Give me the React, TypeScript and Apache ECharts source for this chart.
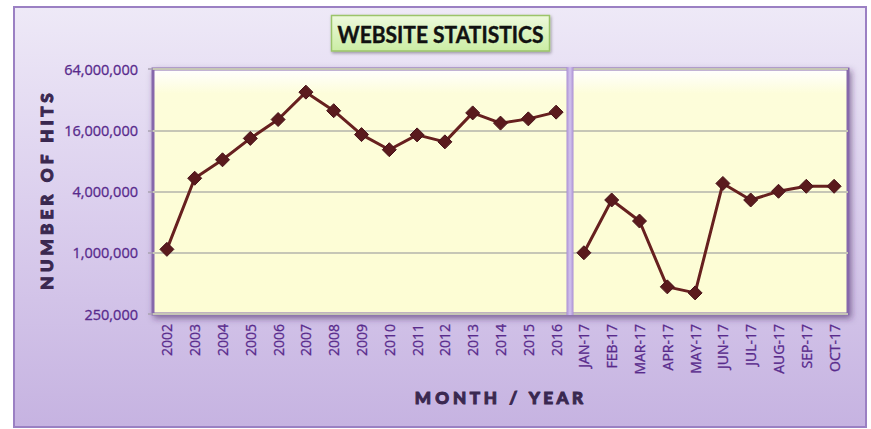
import React, { useEffect, useRef } from 'react';
import * as echarts from 'echarts';

const years = ['2002', '2003', '2004', '2005', '2006', '2007', '2008', '2009', '2010', '2011', '2012', '2013', '2014', '2015', '2016'];
const yearHits = [1080000, 5400000, 8200000, 13300000, 20400000, 37900000, 24900000, 14500000, 10300000, 14400000, 12300000, 23700000, 18800000, 20700000, 24100000];
const months = ['JAN-17', 'FEB-17', 'MAR-17', 'APR-17', 'MAY-17', 'JUN-17', 'JUL-17', 'AUG-17', 'SEP-17', 'OCT-17'];
const monthHits = [1000000, 3300000, 2050000, 462000, 403000, 4800000, 3300000, 4020000, 4500000, 4500000];
const yTickValues = [250000, 1000000, 4000000, 16000000, 64000000];
const LOG_BASE = 4;

const titleText = 'WEBSITE STATISTICS';
const yName = 'NUMBER OF HITS';
const xName = 'MONTH / YEAR';

const toLog = (v: number) => Math.log(v / yTickValues[0]) / Math.log(LOG_BASE);

function spaced(s: string) {
  return s.split(' ').map((w) => w.split('').join(' ')).join('   ');
}

function measure(text: string, font: string) {
  const c = document.createElement('canvas').getContext('2d')!;
  c.font = font;
  return c.measureText(text).width;
}

export default function App() {
  const ref = useRef<HTMLDivElement>(null);
  useEffect(() => {
    document.body.style.margin = '0';
    const chart = echarts.init(ref.current!, null, { renderer: 'svg' });
    const categories = [...years, ...months];
    const s1 = categories.map((_, i) => (i < years.length ? toLog(yearHits[i]) : null));
    const s2 = categories.map((_, i) => (i >= years.length ? toLog(monthHits[i - years.length]) : null));
    const labelFont = "'Open Sans', sans-serif";
    const labelColor = '#582a8c';
    const lineStyle = { color: '#67201f', width: 3 };
    const itemStyle = { color: '#5a1a1d', borderColor: '#47121a', borderWidth: 1 };

    chart.setOption({
      animation: false,
      backgroundColor: 'transparent',
      grid: {
        left: 153,
        right: 23,
        top: 69,
        bottom: 115,
        show: true,
        borderColor: '#8668ab',
        borderWidth: 3,
        shadowColor: 'rgba(60,30,90,0.55)',
        shadowBlur: 6,
        shadowOffsetX: 2,
        shadowOffsetY: 3,
        backgroundColor: new echarts.graphic.LinearGradient(0, 0, 0, 1, [
          { offset: 0, color: '#ffffff' },
          { offset: 0.1, color: '#fdfdda' },
          { offset: 1, color: '#fdfdd4' },
        ]),
      },
      xAxis: {
        type: 'category',
        data: categories,
        boundaryGap: true,
        axisLine: { show: false },
        axisTick: { show: false },
        axisLabel: {
          rotate: 90,
          interval: 0,
          margin: 10,
          color: labelColor,
          fontFamily: labelFont,
          fontSize: 14,
          textBorderColor: labelColor,
          textBorderWidth: 0.3,
        },
      },
      yAxis: {
        type: 'value',
        min: 0,
        max: yTickValues.length - 1,
        interval: 1,
        axisLine: { show: false },
        axisTick: { show: true, length: 5, lineStyle: { color: '#a9a2b0', width: 1.5 } },
        splitLine: { show: true, lineStyle: { color: '#c6c6b6', width: 2 } },
        axisLabel: {
          margin: 15,
          color: labelColor,
          fontFamily: labelFont,
          fontSize: 14.5,
          textBorderColor: labelColor,
          textBorderWidth: 0.3,
          formatter: (v: number) => {
            const t = yTickValues[Math.round(v)];
            return t === undefined ? '' : t.toLocaleString('en-US');
          },
        },
      },
      series: [
        { type: 'line', data: s1, symbol: 'diamond', symbolSize: 14, lineStyle, itemStyle, connectNulls: false },
        { type: 'line', data: s2, symbol: 'diamond', symbolSize: 14, lineStyle, itemStyle, connectNulls: false },
      ],
    });

    const xa = chart.convertToPixel({ xAxisIndex: 0 }, categories[years.length - 1]) as number;
    const xb = chart.convertToPixel({ xAxisIndex: 0 }, categories[years.length]) as number;
    const yTop = chart.convertToPixel({ yAxisIndex: 0 }, yTickValues.length - 1) as number;
    const yBot = chart.convertToPixel({ yAxisIndex: 0 }, 0) as number;
    const sepX = (xa + xb) / 2;

    const titleFont = "bold 23px Lato";
    const titleW = measure(titleText, titleFont);
    const nameFontSize = 17;
    const nameFont = `900 ${nameFontSize}px Lato`;
    const yNameS = spaced(yName);
    const xNameS = spaced(xName);
    const yNameW = measure(yNameS, nameFont);
    const xNameW = measure(xNameS, nameFont);
    const titleCx = 440.5;
    const nameColor = '#3a2850';

    chart.setOption({
      graphic: [
        {
          type: 'rect',
          z: 10,
          shape: { x: sepX - 3.5, y: yTop - 2, width: 7, height: yBot - yTop + 3 },
          style: {
            fill: new echarts.graphic.LinearGradient(0, 0, 1, 0, [
              { offset: 0, color: '#ab90d3' },
              { offset: 0.5, color: '#d3c4ee' },
              { offset: 1, color: '#ab90d3' },
            ]),
          },
        },
        {
          type: 'rect',
          z: 10,
          shape: { x: 331.5, y: 15.5, width: 218, height: 35.5 },
          style: {
            fill: new echarts.graphic.LinearGradient(0, 0, 0, 1, [
              { offset: 0, color: '#edf9dc' },
              { offset: 1, color: '#cbeda4' },
            ]),
            stroke: '#9bc46a',
            lineWidth: 1.5,
            shadowBlur: 3,
            shadowOffsetX: 1,
            shadowOffsetY: 1.5,
            shadowColor: 'rgba(0,0,0,0.35)',
          },
        },
        {
          type: 'text',
          z: 11,
          x: titleCx,
          y: 34,
          scaleX: 206 / titleW,
          style: {
            text: titleText,
            font: titleFont,
            fill: '#111111',
            stroke: '#111111',
            lineWidth: 0.4,
            align: 'center',
            verticalAlign: 'middle',
            textAlign: 'center',
            textVerticalAlign: 'middle',
          },
        },
        {
          type: 'text',
          z: 11,
          x: 47,
          y: (yTop + yBot) / 2,
          rotation: Math.PI / 2,
          scaleX: 198 / yNameW,
          style: {
            text: yNameS,
            font: nameFont,
            fill: nameColor,
            stroke: nameColor,
            lineWidth: 1,
            align: 'center',
            verticalAlign: 'middle',
            textAlign: 'center',
            textVerticalAlign: 'middle',
          },
        },
        {
          type: 'text',
          z: 11,
          x: 499,
          y: 398,
          scaleX: 172 / xNameW,
          style: {
            text: xNameS,
            font: nameFont,
            fill: nameColor,
            stroke: nameColor,
            lineWidth: 1,
            align: 'center',
            verticalAlign: 'middle',
            textAlign: 'center',
            textVerticalAlign: 'middle',
          },
        },
      ],
    });

    return () => chart.dispose();
  }, []);

  return (
    <div style={{ position: 'relative', width: 871, height: 429, background: '#ffffff', overflow: 'hidden' }}>
      <div
        style={{
          position: 'absolute',
          left: 13,
          top: 6,
          width: 854,
          height: 422,
          boxSizing: 'border-box',
          border: '2px solid #9b80c3',
          background: 'linear-gradient(180deg, #eee9f7 0%, #dcd0ee 45%, #c6b3e1 100%)',
        }}
      />
      <div ref={ref} style={{ position: 'absolute', left: 0, top: 0, width: 871, height: 429 }} />
    </div>
  );
}
